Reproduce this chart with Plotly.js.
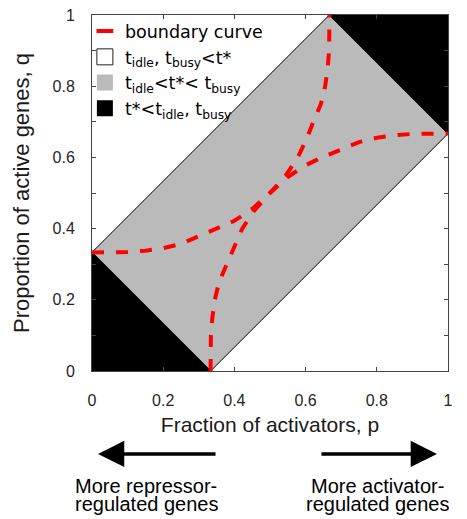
<!DOCTYPE html>
<html>
<head>
<meta charset="utf-8">
<script src="https://cdn.plot.ly/plotly-3.0.1.min.js"></script>
<style>html,body{margin:0;padding:0;background:#fff;}#chart{width:467px;height:519px;}</style>
</head>
<body>
<div id="chart"></div>
<script>
// Boundary curve 1 (q as a function of p)
var curve1P = [0, 0.05, 0.1, 0.15, 0.2, 0.25, 0.3, 0.35, 0.4, 0.45, 0.5, 0.55, 0.6, 0.65, 0.7, 0.75, 0.8, 0.85, 0.9, 0.95, 1];
var curve1Q = [0.333, 0.333, 0.334, 0.338, 0.345, 0.357, 0.378, 0.398, 0.422, 0.455, 0.5, 0.545, 0.578, 0.602, 0.622, 0.643, 0.655, 0.662, 0.666, 0.667, 0.667];
// Boundary curve 2 (the steep one)
var curve2P = [0.333, 0.333, 0.334, 0.338, 0.345, 0.357, 0.378, 0.398, 0.422, 0.455, 0.5, 0.545, 0.578, 0.602, 0.622, 0.643, 0.655, 0.662, 0.666, 0.667, 0.667];
var curve2Q = [0, 0.05, 0.1, 0.15, 0.2, 0.25, 0.3, 0.35, 0.4, 0.45, 0.5, 0.55, 0.6, 0.65, 0.7, 0.75, 0.8, 0.85, 0.9, 0.95, 1];
// Regions
var grayP = [0, 0.3333, 1, 0.6667, 0];
var grayQ = [0.3333, 0, 0.6667, 1, 0.3333];
var blackLowP = [0, 0.3333, 0, 0];
var blackLowQ = [0, 0, 0.3333, 0];
var blackHighP = [0.6667, 1, 1, 0.6667];
var blackHighQ = [1, 1, 0.6667, 1];
// Labels
var legendNames = ['boundary curve',
  't<sub>idle</sub>, t<sub>busy</sub>&lt;t*',
  't<sub>idle</sub>&lt;t*&lt; t<sub>busy</sub>',
  't*&lt;t<sub>idle</sub>, t<sub>busy</sub>'];
var xTicks = [0, 0.2, 0.4, 0.6, 0.8, 1];
var xTickText = ['0', '0.2', '0.4', '0.6', '0.8', '1'];
var yTicks = [0, 0.2, 0.4, 0.6, 0.8, 1];
var yTickText = ['0', '0.2', '0.4', '0.6', '0.8', '1'];
var leftNote = ['More repressor-', 'regulated genes'];
var rightNote = ['More activator-', 'regulated genes'];

var RED = '#ff0000', GRAY = '#bababa';
var dashStyle = {color: RED, width: 4, dash: '12px,12px'};

var traces = [
  {x: grayP, y: grayQ, mode: 'lines', fill: 'toself', fillcolor: GRAY, line: {color: '#000', width: 1}, showlegend: false, hoverinfo: 'skip'},
  {x: blackLowP, y: blackLowQ, mode: 'lines', fill: 'toself', fillcolor: '#000', line: {color: '#000', width: 1}, showlegend: false, hoverinfo: 'skip'},
  {x: blackHighP, y: blackHighQ, mode: 'lines', fill: 'toself', fillcolor: '#000', line: {color: '#000', width: 1}, showlegend: false, hoverinfo: 'skip'},
  {x: curve1P, y: curve1Q, mode: 'lines', line: dashStyle, showlegend: false},
  {x: curve2P, y: curve2Q, mode: 'lines', line: dashStyle, showlegend: false},
  // legend entries
  {x: [null], y: [null], mode: 'markers', name: legendNames[0], marker: {symbol: 'line-ew', size: 12, color: RED, line: {color: RED, width: 4}}},
  {x: [null], y: [null], mode: 'markers', name: legendNames[1], marker: {symbol: 'square', size: 16, color: '#fff', line: {color: '#222', width: 1}}},
  {x: [null], y: [null], mode: 'markers', name: legendNames[2], marker: {symbol: 'square', size: 16, color: GRAY, line: {color: GRAY, width: 0}}},
  {x: [null], y: [null], mode: 'markers', name: legendNames[3], marker: {symbol: 'square', size: 16, color: '#000', line: {color: '#000', width: 0}}}
];

var axisCommon = {
  range: [0, 1], showgrid: false, zeroline: false, showline: true, linecolor: '#444', linewidth: 1,
  mirror: 'allticks', ticks: 'inside', ticklen: 4, tickcolor: '#444', tickmode: 'array',
  tickfont: {family: 'Liberation Sans, Arial', size: 16, color: '#262626'}, fixedrange: true
};

var noteFont = {family: 'Liberation Sans, Arial', size: 20, color: '#000'};
function note(x, y, t) {
  return {xref: 'paper', yref: 'paper', x: x, y: y, xanchor: 'center', yanchor: 'middle', text: t, showarrow: false, font: noteFont};
}

var layout = {
  width: 467, height: 519,
  margin: {l: 92, r: 19, t: 15, b: 148},
  paper_bgcolor: '#fff', plot_bgcolor: '#fff',
  showlegend: true,
  legend: {x: -0.02, y: 1.005, xanchor: 'left', yanchor: 'top', bgcolor: 'rgba(0,0,0,0)',
    font: {family: 'DejaVu Sans', size: 17.5, color: '#000'}, itemwidth: 30, traceorder: 'normal'},
  xaxis: Object.assign({}, axisCommon, {
    tickvals: xTicks, ticktext: xTickText, ticklabelstandoff: 15,
    title: {text: 'Fraction of activators, p', font: {family: 'Liberation Sans, Arial', size: 21, color: '#1a1a1a'}, standoff: 9}
  }),
  yaxis: Object.assign({}, axisCommon, {
    tickvals: yTicks, ticktext: yTickText, ticklabelstandoff: 13,
    minor: {tickvals: [0.1, 0.3, 0.5, 0.7, 0.9], ticks: 'inside', ticklen: 4, tickcolor: '#444'},
    title: {text: 'Proportion of active genes, q', font: {family: 'Liberation Sans, Arial', size: 22, color: '#1a1a1a'}, standoff: 16}
  }),
  annotations: [
    {xref: 'paper', yref: 'paper', x: 0.0169, y: -0.2331, ax: 119, ay: 0, axref: 'pixel', ayref: 'pixel', text: '', showarrow: true,
      arrowhead: 2, arrowsize: 1.5, arrowwidth: 3.5, arrowcolor: '#000', standoff: 0},
    {xref: 'paper', yref: 'paper', x: 0.969, y: -0.2331, ax: -117, ay: 0, axref: 'pixel', ayref: 'pixel', text: '', showarrow: true,
      arrowhead: 2, arrowsize: 1.5, arrowwidth: 3.5, arrowcolor: '#000', standoff: 0},
    note(0.1517, -0.322, leftNote[0]),
    note(0.1517, -0.373, leftNote[1]),
    note(0.8006, -0.322, rightNote[0]),
    note(0.8006, -0.373, rightNote[1])
  ]
};

Plotly.newPlot('chart', traces, layout, {staticPlot: true, displayModeBar: false});
</script>
</body>
</html>
